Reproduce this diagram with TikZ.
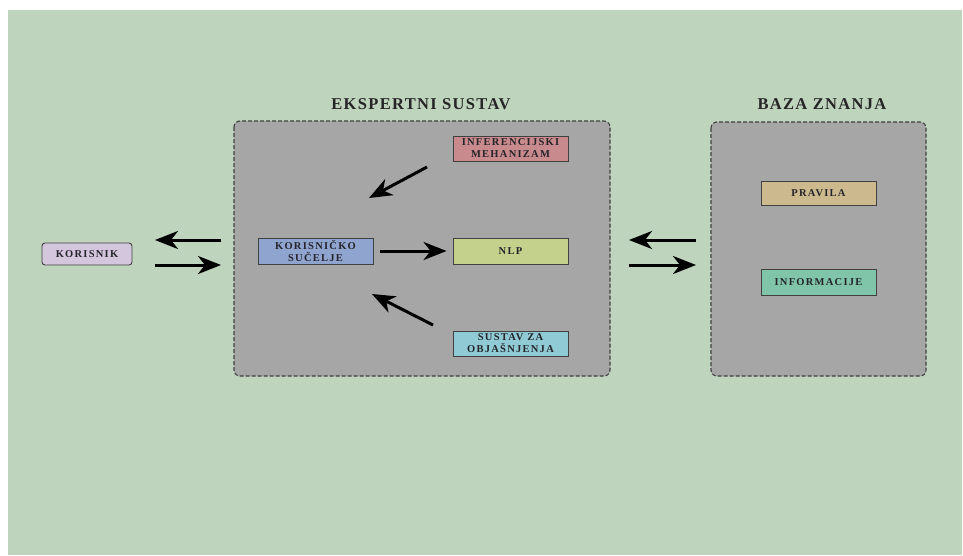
\documentclass[tikz,border=0pt]{standalone}
\usepackage{fontspec}
\setmainfont{Liberation Serif}
\newfontfamily\spfont[LetterSpace=12]{Liberation Serif}
\newfontfamily\tifont[LetterSpace=8]{Liberation Serif}
\usetikzlibrary{arrows.meta}
\definecolor{bggreen}{HTML}{BFD4BC}
\definecolor{boxgray}{HTML}{A6A6A6}
\definecolor{infc}{HTML}{C98A8D}
\definecolor{korc}{HTML}{8FA5CF}
\definecolor{nlpc}{HTML}{C4D18D}
\definecolor{susc}{HTML}{90CBD5}
\definecolor{pravc}{HTML}{CDB98E}
\definecolor{infoc}{HTML}{80C4AA}
\definecolor{usrc}{HTML}{D4C6DD}
\definecolor{txtc}{HTML}{24242A}
\tikzset{
  x=1pt, y=-1pt,
  comp/.style={draw=black!75, line width=0.9pt, minimum width=115pt, minimum height=25pt,
    inner sep=1pt, align=center, text=txtc, font={\spfont\bfseries\fontsize{10.5}{12}\selectfont}},
  group/.style={draw=black!75, fill=boxgray, dash pattern=on 4pt off 2pt, line width=1.1pt, rounded corners=6pt},
  gtitle/.style={text=black!85, font={\tifont\bfseries\fontsize{16.5}{18}\selectfont}},
  arr/.style={line width=3pt, -{Stealth[length=23pt,width=18pt,inset=7pt]}},
}
\begin{document}
\begin{tikzpicture}
\useasboundingbox (0,0) rectangle (963,555);
\fill[white] (0,0) rectangle (963,555);
\fill[bggreen] (8,10) rectangle (962,555);
% groups
\draw[group] (234,121) rectangle (610,376);
\draw[group] (711,122) rectangle (926,376);
\node[gtitle] (t1) at (421,104) {EKSPERTNI SUSTAV};
\node[gtitle] (t2) at (822,104) {BAZA ZNANJA};
% components
\node[comp, fill=infc] (inf) at (510.5,148.5) {INFERENCIJSKI\\MEHANIZAM};
\node[comp, fill=korc, minimum height=26pt] (kor) at (315.5,251) {KORISNIČKO\\SUČELJE};
\node[comp, fill=nlpc, minimum height=26pt] (nlp) at (510.5,251) {NLP};
\node[comp, fill=susc] (sus) at (510.5,343.5) {SUSTAV ZA\\OBJAŠNJENJA};
\node[comp, fill=pravc, minimum height=24pt] (prav) at (818.5,193) {PRAVILA};
\node[comp, fill=infoc, minimum height=26pt] (info) at (818.5,282) {INFORMACIJE};
\node[comp, fill=usrc, rounded corners=3pt, minimum width=90pt, minimum height=22pt] (usr) at (87,254) {KORISNIK};
% arrow coordinates
\coordinate (a1s) at (221,240); \coordinate (a1e) at (155,240);
\coordinate (a2s) at (155,265); \coordinate (a2e) at (221,265);
\coordinate (b1s) at (696,240); \coordinate (b1e) at (629,240);
\coordinate (b2s) at (629,265); \coordinate (b2e) at (696,265);
\coordinate (c1s) at (427,167); \coordinate (c1e) at (369,198);
\coordinate (c2s) at (433,325); \coordinate (c2e) at (372,294);
\draw[arr] (a1s) -- (a1e);
\draw[arr] (a2s) -- (a2e);
\draw[arr] (b1s) -- (b1e);
\draw[arr] (b2s) -- (b2e);
\draw[arr] ([xshift=7pt]kor.east) -- ([xshift=-6pt]nlp.west);
\draw[arr] (c1s) -- (c1e);
\draw[arr] (c2s) -- (c2e);
\end{tikzpicture}
\end{document}
